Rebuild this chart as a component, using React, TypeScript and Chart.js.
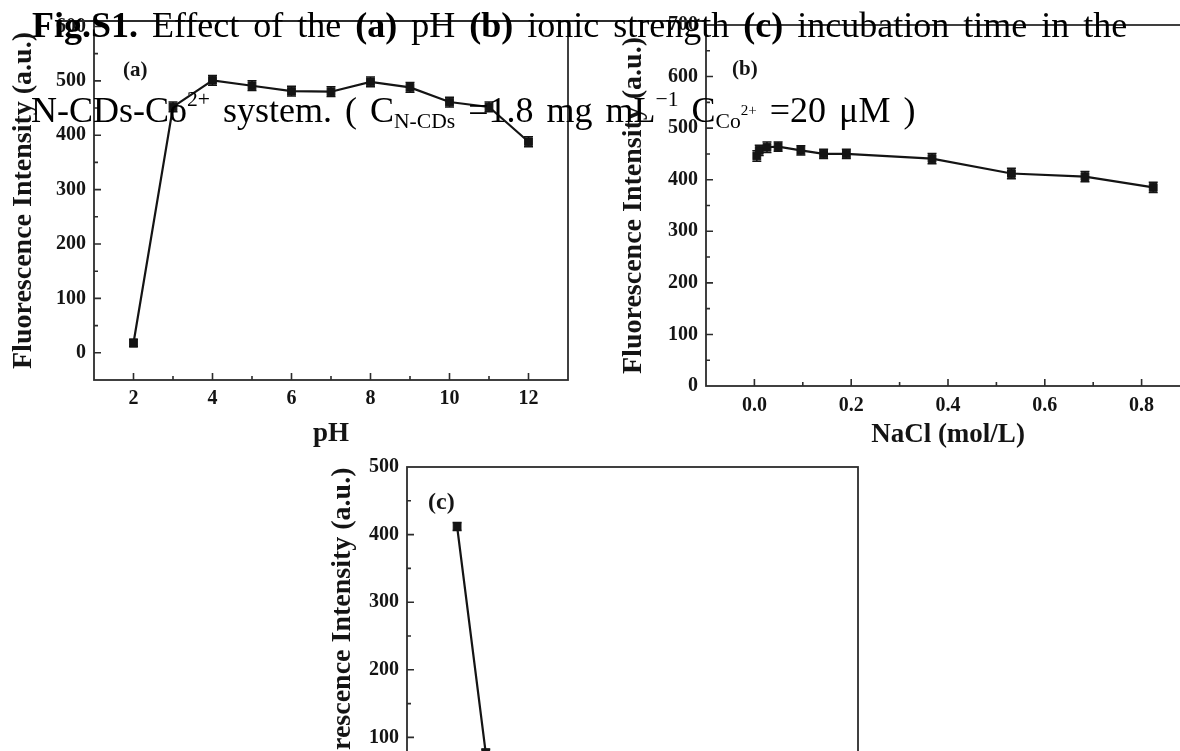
import React, { useEffect, useRef } from 'react';
import { Chart, registerables } from 'chart.js';

Chart.register(...registerables);

// ---------- data ----------
// (a) effect of pH
const phLevels = [2, 3, 4, 5, 6, 7, 8, 9, 10, 11, 12];
const phIntensity = [18, 452, 501, 491, 481, 480, 498, 488, 461, 452, 388];
const phError = [7, 9, 9, 9, 9, 9, 9, 9, 9, 9, 9];
const phTickLabels = ['2', '4', '6', '8', '10', '12'];
const phYTickLabels = ['0', '100', '200', '300', '400', '500', '600'];

// (b) effect of ionic strength
const naclLevels = [0.005, 0.01, 0.026, 0.049, 0.096, 0.143, 0.19, 0.367, 0.531, 0.683, 0.824];
const naclIntensity = [446, 457, 463, 464, 457, 450, 450, 441, 412, 406, 385];
const naclError = [10, 10, 10, 9, 9, 9, 9, 10, 10, 10, 10];
const naclTickLabels = ['0.0', '0.2', '0.4', '0.6', '0.8'];
const naclYTickLabels = ['0', '100', '200', '300', '400', '500', '600', '700'];

// (c) effect of incubation time
const timeLevels = [0, 2, 5, 10, 15, 20, 25];
const timeIntensity = [412, 77, 68, 66, 65, 65, 64];
const timeError = [6, 6, 6, 6, 6, 6, 6];
const timeTickLabels = ['0', '5', '10', '15', '20', '25'];
const timeYTickLabels = ['0', '100', '200', '300', '400', '500'];

const yTitleText = 'Fluorescence Intensity (a.u.)';

// ---------- styling ----------
const FONT = "'Liberation Serif', 'Times New Roman', serif";
const INK = '#141414';
const FRAME = '#2c2c2c';

type Spec = {
  xs: number[];
  ys: number[];
  errs: number[];
  xMin: number;
  xMax: number;
  xStep: number;
  xLabels: string[];
  xDigits: number;
  yMin: number;
  yMax: number;
  yStep: number;
  yLabels: string[];
  xTitle: string;
  panel: string;
  panelX: number;
  panelY: number;
  panelSize: number;
  padTop: number;
  padRight: number;
  yWidth: number;
  xHeight: number;
  yTitlePad: number;
  xTitlePad: number;
  xTickPad: number;
};

function decorPlugin(spec: Spec) {
  return {
    id: 'decor',
    beforeDatasetsDraw(chart: any) {
      const ctx = chart.ctx;
      const ys = chart.scales.y;
      const meta = chart.getDatasetMeta(0);
      ctx.save();
      ctx.strokeStyle = INK;
      ctx.lineWidth = 1.5;
      meta.data.forEach((pt: any, i: number) => {
        const v = spec.ys[i];
        const e = spec.errs[i];
        const yTop = ys.getPixelForValue(v + e);
        const yBot = ys.getPixelForValue(v - e);
        ctx.beginPath();
        ctx.moveTo(pt.x, yTop);
        ctx.lineTo(pt.x, yBot);
        ctx.moveTo(pt.x - 4.5, yTop);
        ctx.lineTo(pt.x + 4.5, yTop);
        ctx.moveTo(pt.x - 4.5, yBot);
        ctx.lineTo(pt.x + 4.5, yBot);
        ctx.stroke();
      });
      ctx.restore();
    },
    afterDraw(chart: any) {
      const ctx = chart.ctx;
      const { left, right, top, bottom } = chart.chartArea;
      const xs = chart.scales.x;
      const ys = chart.scales.y;
      ctx.save();
      ctx.strokeStyle = FRAME;
      ctx.lineWidth = 1.8;
      ctx.strokeRect(left, top, right - left, bottom - top);
      ctx.lineWidth = 1.6;
      ctx.beginPath();
      xs.ticks.forEach((t: any) => {
        const px = xs.getPixelForValue(t.value);
        if (px <= left + 1 || px >= right - 1) return;
        const len = t.label ? 7 : 4;
        ctx.moveTo(px, bottom);
        ctx.lineTo(px, bottom - len);
      });
      ys.ticks.forEach((t: any) => {
        const py = ys.getPixelForValue(t.value);
        if (py <= top + 1 || py >= bottom - 1) return;
        const len = t.label ? 7 : 4;
        ctx.moveTo(left, py);
        ctx.lineTo(left + len, py);
      });
      ctx.stroke();
      ctx.fillStyle = INK;
      ctx.font = `bold ${spec.panelSize}px ${FONT}`;
      ctx.textAlign = 'left';
      ctx.textBaseline = 'middle';
      ctx.fillText(spec.panel, spec.panelX, spec.panelY);
      ctx.restore();
    },
  };
}

function buildConfig(spec: Spec): any {
  const tickFont = { family: FONT, size: 20, weight: 'bold' as const };
  return {
    type: 'line',
    data: {
      datasets: [
        {
          data: spec.xs.map((x, i) => ({ x, y: spec.ys[i] })),
          borderColor: INK,
          borderWidth: 2.2,
          backgroundColor: INK,
          pointStyle: 'rect',
          pointRadius: 5.5,
          pointBackgroundColor: INK,
          pointBorderColor: INK,
          pointBorderWidth: 1,
          tension: 0,
          fill: false,
          clip: false,
        },
      ],
    },
    options: {
      responsive: false,
      maintainAspectRatio: false,
      animation: false,
      devicePixelRatio: 1,
      events: [],
      layout: { padding: { left: 0, top: spec.padTop, right: spec.padRight, bottom: 0 } },
      plugins: { legend: { display: false }, tooltip: { enabled: false }, title: { display: false } },
      scales: {
        x: {
          type: 'linear',
          min: spec.xMin,
          max: spec.xMax,
          grid: { display: false, drawTicks: false },
          border: { display: false },
          ticks: {
            stepSize: spec.xStep,
            includeBounds: false,
            autoSkip: false,
            maxRotation: 0,
            minRotation: 0,
            padding: spec.xTickPad,
            color: INK,
            font: tickFont,
            callback: (v: number) => {
              const s = spec.xDigits > 0 ? (Math.round(v * 10) / 10).toFixed(spec.xDigits) : String(Math.round(v));
              return spec.xLabels.includes(s) ? s : '';
            },
          },
          title: {
            display: true,
            text: spec.xTitle,
            color: INK,
            font: { family: FONT, size: 27, weight: 'bold' },
            padding: { top: 0, bottom: spec.xTitlePad },
          },
          afterFit: (s: any) => {
            s.height = spec.xHeight;
          },
        },
        y: {
          type: 'linear',
          min: spec.yMin,
          max: spec.yMax,
          grid: { display: false, drawTicks: false },
          border: { display: false },
          ticks: {
            stepSize: spec.yStep,
            includeBounds: false,
            autoSkip: false,
            padding: 8,
            color: INK,
            font: tickFont,
            callback: (v: number) => {
              const s = String(Math.round(v));
              return spec.yLabels.includes(s) ? s : '';
            },
          },
          title: {
            display: true,
            text: yTitleText,
            color: INK,
            font: { family: FONT, size: 28, weight: 'bold' },
            padding: { top: spec.yTitlePad, bottom: 0 },
          },
          afterFit: (s: any) => {
            s.width = spec.yWidth;
          },
        },
      },
    },
    plugins: [decorPlugin(spec)],
  };
}

const specA: Spec = {
  xs: phLevels, ys: phIntensity, errs: phError,
  xMin: 1, xMax: 13, xStep: 1, xLabels: phTickLabels, xDigits: 0,
  yMin: -50, yMax: 610, yStep: 50, yLabels: phYTickLabels,
  xTitle: 'pH', panel: '(a)', panelX: 123, panelY: 71, panelSize: 21,
  padTop: 21, padRight: 22, yWidth: 94, xHeight: 90, yTitlePad: 7, xTitlePad: 20, xTickPad: 7,
};

const specB: Spec = {
  xs: naclLevels, ys: naclIntensity, errs: naclError,
  xMin: -0.1, xMax: 0.9, xStep: 0.1, xLabels: naclTickLabels, xDigits: 1,
  yMin: 0, yMax: 700, yStep: 50, yLabels: naclYTickLabels,
  xTitle: 'NaCl (mol/L)', panel: '(b)', panelX: 132, panelY: 70, panelSize: 21,
  padTop: 25, padRight: 10, yWidth: 106, xHeight: 84, yTitlePad: 17, xTitlePad: 19, xTickPad: 8,
};

const specC: Spec = {
  xs: timeLevels, ys: timeIntensity, errs: timeError,
  xMin: -3.5, xMax: 28, xStep: 5, xLabels: timeTickLabels, xDigits: 0,
  yMin: 0, yMax: 500, yStep: 50, yLabels: timeYTickLabels,
  xTitle: 'Time (min)', panel: '(c)', panelX: 128, panelY: 63, panelSize: 24,
  padTop: 27, padRight: 22, yWidth: 107, xHeight: 55, yTitlePad: 26, xTitlePad: 4, xTickPad: 7,
};

function Panel(props: { spec: Spec; left: number; top: number; width: number; height: number }) {
  const ref = useRef<HTMLCanvasElement | null>(null);
  const { spec, left, top, width, height } = props;
  useEffect(() => {
    if (!ref.current) return;
    const chart = new Chart(ref.current, buildConfig(spec));
    return () => chart.destroy();
  }, [spec]);
  return (
    <canvas
      ref={ref}
      width={width}
      height={height}
      style={{ position: 'absolute', left, top, width, height, display: 'block' }}
    />
  );
}

const sup: React.CSSProperties = { fontSize: '0.6em', position: 'relative', top: '-0.72em' };
const sub: React.CSSProperties = { fontSize: '0.6em', position: 'relative', top: '0.3em' };
const subSup: React.CSSProperties = { fontSize: '0.42em', position: 'relative', top: '-0.45em' };

export default function App() {
  return (
    <div
      style={{
        position: 'fixed',
        left: 0,
        top: 0,
        width: 1180,
        height: 751,
        overflow: 'hidden',
        background: '#ffffff',
      }}
    >
      <Panel spec={specA} left={0} top={0} width={590} height={470} />
      <Panel spec={specB} left={600} top={0} width={600} height={470} />
      <Panel spec={specC} left={300} top={440} width={580} height={420} />
      <div style={{ position: 'absolute', left: 60, top: 20, width: 646, height: 2, background: FRAME }} />
      <div
        style={{
          position: 'absolute',
          left: 32,
          top: 7,
          fontFamily: FONT,
          fontSize: 36,
          lineHeight: '36px',
          whiteSpace: 'nowrap',
          wordSpacing: 5,
          color: '#000',
        }}
      >
        <b>Fig.S1.</b> Effect of the <b>(a)</b> pH <b>(b)</b> ionic strength <b>(c)</b> incubation time in the
      </div>
      <div
        style={{
          position: 'absolute',
          left: 31,
          top: 92,
          fontFamily: FONT,
          fontSize: 36,
          lineHeight: '36px',
          whiteSpace: 'nowrap',
          wordSpacing: 4,
          color: '#000',
        }}
      >
        N-CDs-Co<span style={sup}>2+</span> system. ( C<span style={sub}>N-CDs</span> =1.8 mg mL
        <span style={sup}>−1</span>  C<span style={sub}>Co</span>
        <span style={subSup}>2+</span> =20 μM )
      </div>
    </div>
  );
}
